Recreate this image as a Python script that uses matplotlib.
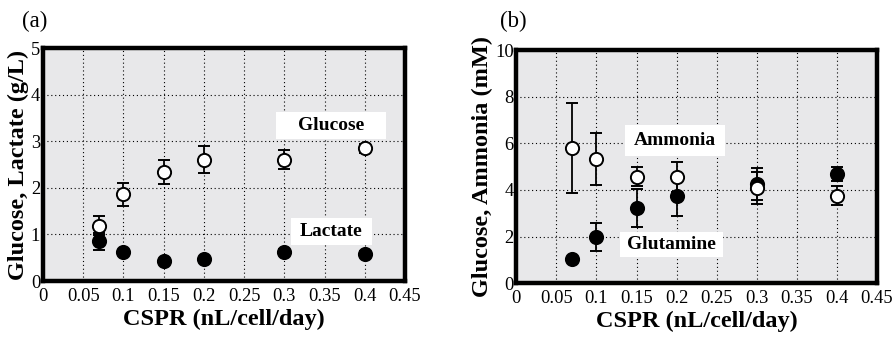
import numpy as np
import matplotlib.pyplot as plt
from matplotlib.patches import Rectangle

plt.rcParams['font.family'] = ['Liberation Serif', 'DejaVu Serif']

cspr = [0.07, 0.1, 0.15, 0.2, 0.3, 0.4]

# (a) glucose / lactate, g/L
glucose = [1.19, 1.86, 2.34, 2.61, 2.61, 2.85]
glucose_err = [0.21, 0.24, 0.25, 0.28, 0.20, 0.10]
lactate = [0.85, 0.62, 0.43, 0.47, 0.63, 0.59]
lactate_err = [0.18, 0.05, 0.05, 0.05, 0.05, 0.05]

# (b) ammonia / glutamine, mM
ammonia = [5.80, 5.33, 4.57, 4.55, 4.08, 3.75]
ammonia_err = [1.93, 1.10, 0.40, 0.63, 0.70, 0.40]
glutamine = [1.04, 1.98, 3.22, 3.75, 4.25, 4.68]
glutamine_err = [0.05, 0.62, 0.80, 0.87, 0.70, 0.30]

xticks = [0, 0.05, 0.1, 0.15, 0.2, 0.25, 0.3, 0.35, 0.4, 0.45]
xticklabels = ['0', '0.05', '0.1', '0.15', '0.2', '0.25', '0.3', '0.35', '0.4', '0.45']

fig = plt.figure(figsize=(8.95, 3.37), dpi=100)
axa = fig.add_axes([0.048, 0.166, 0.4045, 0.691])
axb = fig.add_axes([0.577, 0.160, 0.4026, 0.691])


def style(ax, ymax, ystep, ylabel):
    ax.set_facecolor('#e8e8ea')
    ax.set_xlim(0, 0.45)
    ax.set_ylim(0, ymax)
    ax.set_xticks(xticks)
    ax.set_xticklabels(xticklabels)
    ax.set_yticks(np.arange(0, ymax + 0.01, ystep))
    ax.tick_params(length=0, labelsize=13.3)
    ax.tick_params(axis='x', pad=5)
    ax.tick_params(axis='y', pad=2)
    ax.grid(True, color='black', linestyle=(0, (1, 2.5)), linewidth=0.8)
    ax.set_axisbelow(True)
    for sp in ax.spines.values():
        sp.set_linewidth(3.2)
        sp.set_zorder(5)
    ax.set_xlabel('CSPR (nL/cell/day)', fontsize=17.5, fontweight='bold', labelpad=3)
    ax.set_ylabel(ylabel, fontsize=17.5, fontweight='bold', labelpad=1)


def points(ax, y, err, filled):
    ax.errorbar(cspr, y, yerr=err, fmt='o', ms=9.5,
                mfc='black' if filled else 'white', mec='black', mew=1.4,
                ecolor='black', elinewidth=1.3, capsize=4, capthick=1.3,
                zorder=3)


def tag(ax, x0, y0, w, h, text):
    ax.add_patch(Rectangle((x0, y0), w, h, facecolor='white',
                           edgecolor='none', zorder=2))
    ax.text(x0 + w / 2, y0 + h / 2, text, ha='center', va='center',
            fontsize=14, fontweight='bold', zorder=2.5)


style(axa, 5, 1, 'Glucose, Lactate (g/L)')
points(axa, lactate, lactate_err, True)
points(axa, glucose, glucose_err, False)
tag(axa, 0.29, 3.05, 0.136, 0.59, 'Glucose')
tag(axa, 0.308, 0.77, 0.101, 0.59, 'Lactate')
fig.text(0.025, 0.92, '(a)', fontsize=16.5)

style(axb, 10, 2, 'Glucose, Ammonia (mM)')
points(axb, glutamine, glutamine_err, True)
points(axb, ammonia, ammonia_err, False)
tag(axb, 0.135, 5.46, 0.126, 1.31, 'Ammonia')
tag(axb, 0.129, 1.13, 0.129, 1.07, 'Glutamine')
fig.text(0.559, 0.92, '(b)', fontsize=16.5)

fig.savefig('out.png', dpi=100)
